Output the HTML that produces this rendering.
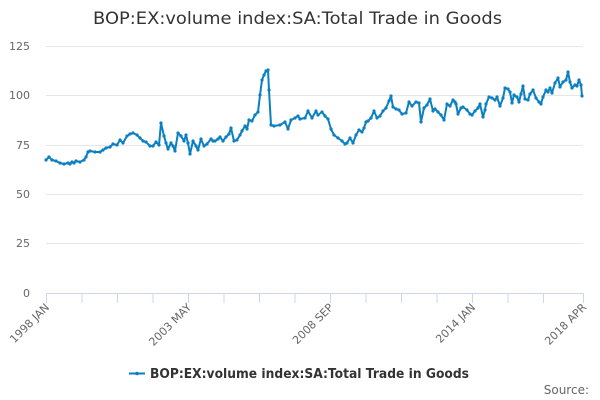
<!DOCTYPE html>
<html><head><meta charset="utf-8"><style>
body{margin:0;background:#fff;}
svg{display:block;font-family:"DejaVu Sans","Liberation Sans",sans-serif;}
</style></head><body>
<svg width="600" height="400" viewBox="0 0 600 400" xmlns="http://www.w3.org/2000/svg">
<defs><marker id="m" markerUnits="userSpaceOnUse" markerWidth="4" markerHeight="4" refX="2" refY="2"><circle cx="2" cy="2" r="1.6" fill="#0a7fc1"/></marker></defs>
<text x="93" y="24" font-size="17" fill="#333" textLength="409" lengthAdjust="spacingAndGlyphs">BOP:EX:volume index:SA:Total Trade in Goods</text>
<g stroke="#e6e6e6" stroke-width="1">
<line x1="46" x2="583" y1="46.5" y2="46.5"/><line x1="46" x2="583" y1="95.5" y2="95.5"/><line x1="46" x2="583" y1="145.5" y2="145.5"/><line x1="46" x2="583" y1="194.5" y2="194.5"/><line x1="46" x2="583" y1="243.5" y2="243.5"/>
</g>
<line x1="46" x2="584" y1="293.5" y2="293.5" stroke="#ccd6eb"/>
<g stroke="#ccd6eb">
<line x1="46.5" x2="46.5" y1="293" y2="303"/><line x1="82" x2="82" y1="293" y2="303"/><line x1="117.5" x2="117.5" y1="293" y2="303"/><line x1="153" x2="153" y1="293" y2="303"/><line x1="188.5" x2="188.5" y1="293" y2="303"/><line x1="224" x2="224" y1="293" y2="303"/><line x1="259.5" x2="259.5" y1="293" y2="303"/><line x1="295" x2="295" y1="293" y2="303"/><line x1="330.5" x2="330.5" y1="293" y2="303"/><line x1="366" x2="366" y1="293" y2="303"/><line x1="401.5" x2="401.5" y1="293" y2="303"/><line x1="437" x2="437" y1="293" y2="303"/><line x1="472.5" x2="472.5" y1="293" y2="303"/><line x1="508" x2="508" y1="293" y2="303"/><line x1="543.5" x2="543.5" y1="293" y2="303"/><line x1="583.5" x2="583.5" y1="293" y2="303"/>
</g>
<g font-size="11" fill="#666" text-anchor="end">
<text x="30" y="50">125</text><text x="30" y="99">100</text><text x="30" y="149">75</text><text x="30" y="198">50</text><text x="30" y="247">25</text><text x="30" y="297">0</text>
</g>
<g font-size="11" fill="#666" text-anchor="end">
<text transform="translate(50,308) rotate(-45)">1998 JAN</text>
<text transform="translate(192,308) rotate(-45)">2003 MAY</text>
<text transform="translate(334,308) rotate(-45)">2008 SEP</text>
<text transform="translate(476,308) rotate(-45)">2014 JAN</text>
<text transform="translate(587,308) rotate(-45)">2018 APR</text>
</g>
<polyline fill="none" stroke="#0a7fc1" stroke-width="2" stroke-linejoin="round" marker-start="url(#m)" marker-mid="url(#m)" marker-end="url(#m)" points="46,160 49,157 52,160 56,161 60,163 64,164 68,163 70,164 72,162 74,163 76,161 80,162 84,160 86,157 88,152 90,151 95,152 100,152 103,150 106,148 110,147 113,144 117,145 120,140 123,143 127,136 130,134 133,133 137,135 140,138 143,141 146,142 150,146 153,146 156,142 159,145 161,123 164,136 166,143 168,149 171,143 173,146 175,151 178,133 181,136 184,141 186,135 188,143 190,154 193,141 196,146 198,150 201,139 204,146 207,144 211,139 213,141 215,141 218,139 220,137 223,141 226,137 229,134 231,128 234,141 237,140 240,135 242,131 245,126 247,129 249,120 252,121 255,115 258,112 260,95 262,80 264,75 266,71 268,70 269,90 271,125 274,126 280,125 285,122 288,129 291,120 295,118 298,116 300,119 305,118 308,111 312,118 316,111 318,115 322,112 325,116 328,119 331,129 334,135 338,138 342,141 345,144 347,143 350,138 353,143 356,135 359,130 362,132 364,128 366,122 368,121 371,118 374,111 377,118 380,116 383,111 386,108 389,101 391,96 393,107 396,109 399,110 402,114 406,113 409,102 412,106 416,102 419,103 421,122 424,108 427,105 430,99 433,111 435,109 438,112 441,115 444,120 447,104 450,106 453,100 455,102 456,104 458,114 461,108 463,107 467,110 470,114 472,115 475,111 478,108 480,104 483,117 485,110 486,104 489,97 492,98 495,100 497,97 500,106 503,98 505,88 508,89 510,92 512,103 514,95 517,97 519,102 521,94 523,86 525,99 528,100 530,94 533,90 536,98 539,102 541,104 543,97 546,90 548,92 550,88 552,93 555,83 558,78 560,87 563,82 566,80 568,72 570,82 572,88 575,85 577,86 579,80 581,85 582,96"/>
<line x1="129" x2="145" y1="373.5" y2="373.5" stroke="#0a7fc1" stroke-width="2"/>
<circle cx="137" cy="373.5" r="1.8" fill="#0a7fc1"/>
<text x="150" y="378" font-size="13" font-weight="bold" fill="#333" textLength="319" lengthAdjust="spacingAndGlyphs">BOP:EX:volume index:SA:Total Trade in Goods</text>
<text x="589" y="394" text-anchor="end" font-size="12" fill="#666">Source:</text>
</svg>
</body></html>
